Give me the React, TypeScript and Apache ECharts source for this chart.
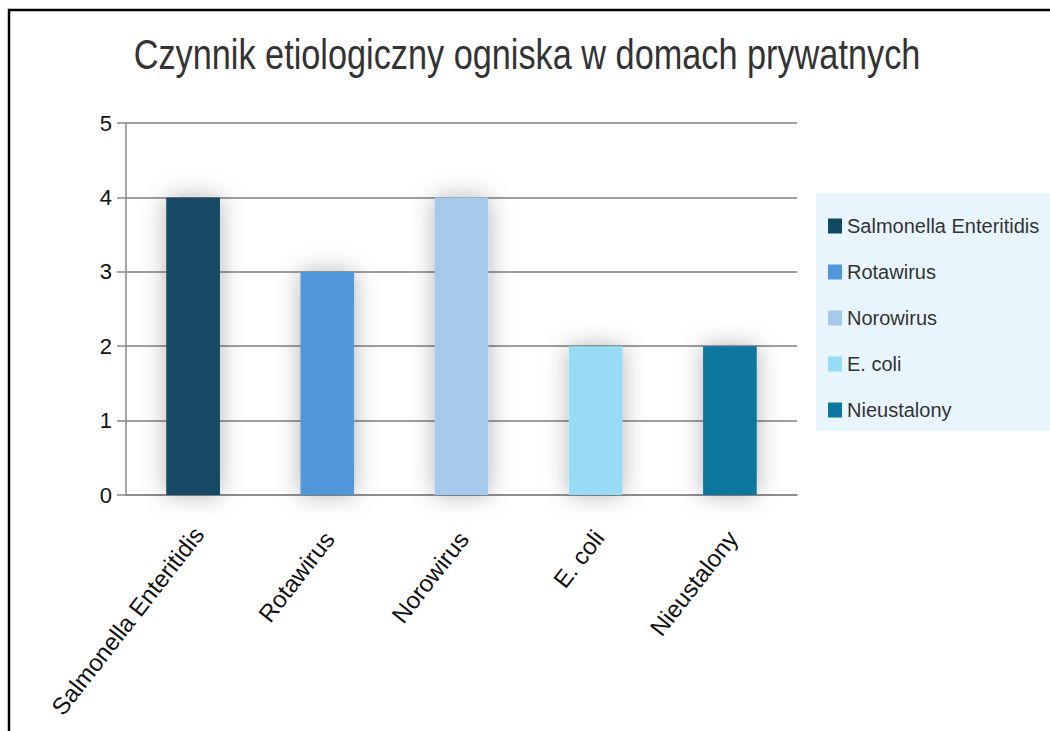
import React, { useEffect, useRef } from "react";
import * as echarts from "echarts";

const TITLE = "Czynnik etiologiczny ogniska w domach prywatnych";
const categories = ["Salmonella Enteritidis", "Rotawirus", "Norowirus", "E. coli", "Nieustalony"];
const values = [4, 3, 4, 2, 2];
const colors = ["#134a63", "#5197db", "#a6c9eb", "#97dbf5", "#0e77a0"];
const yTicks = [0, 1, 2, 3, 4, 5];

const FONT = "'Liberation Sans', Arial, sans-serif";

// per-label shift of the rotated category labels along the text direction
const labelShift = [9, 3, 3, 5, 4];

export default function App() {
  const ref = useRef<HTMLDivElement>(null);
  useEffect(() => {
    if (!ref.current) return;
    const chart = echarts.init(ref.current, undefined, { renderer: "svg" });
    const series = categories.map((name, i) => ({
      name,
      type: "bar",
      stack: "all",
      barWidth: "40%",
      itemStyle: {
        color: colors[i],
        shadowBlur: 24,
        shadowColor: "rgba(0,0,0,0.3)",
      },
      data: categories.map((_, j) => (j === i ? values[i] : "-")),
    }));
    const xData = categories.map((c, i) => ({
      value: c,
      textStyle: { padding: [0, -labelShift[i], 0, 0] },
    }));
    chart.setOption({
      animation: false,
      backgroundColor: "#ffffff",
      grid: { left: 126, right: 253, top: 123, bottom: 236, containLabel: false },
      legend: {
        orient: "vertical",
        left: 816,
        top: 193,
        padding: [23, 12, 11, 12],
        backgroundColor: "#e9f5fc",
        itemWidth: 14,
        itemHeight: 15,
        itemGap: 26,
        icon: "rect",
        textStyle: { fontFamily: FONT, fontSize: 20, color: "#333333" },
        data: categories,
      },
      xAxis: {
        type: "category",
        data: xData,
        axisLine: { lineStyle: { color: "#888888", width: 1.5 } },
        axisTick: { length: 10, lineStyle: { color: "#888888", width: 1.5 } },
        axisLabel: {
          rotate: 52,
          margin: 42,
          fontFamily: FONT,
          fontSize: 24,
          color: "#111111",
          interval: 0,
        },
      },
      yAxis: {
        type: "value",
        min: 0,
        max: 5,
        interval: 1,
        axisLine: { show: true, lineStyle: { color: "#888888", width: 1.5 } },
        axisTick: { show: true, length: 9, lineStyle: { color: "#888888", width: 1.5 } },
        axisLabel: {
          margin: 14,
          fontFamily: FONT,
          fontSize: 22,
          color: "#111111",
          formatter: (v: number) => (yTicks.includes(v) ? String(v) : ""),
        },
        splitLine: { lineStyle: { color: "#7f7f7f", width: 1.5 } },
      },
      graphic: [
        {
          type: "rect",
          z: -10,
          shape: { x: 9, y: 10, width: 1100, height: 800 },
          style: { fill: "none", stroke: "#000000", lineWidth: 2.5 },
        },
        {
          type: "text",
          x: 527,
          y: 33,
          scaleX: 0.816,
          style: {
            text: TITLE,
            fontFamily: FONT,
            fontSize: 42,
            fill: "#333333",
            textAlign: "center",
            textVerticalAlign: "top",
          },
        },
      ],
      series,
    });
    return () => chart.dispose();
  }, []);
  return (
    <div
      ref={ref}
      style={{ position: "absolute", left: 0, top: 0, width: 1050, height: 731 }}
    />
  );
}
